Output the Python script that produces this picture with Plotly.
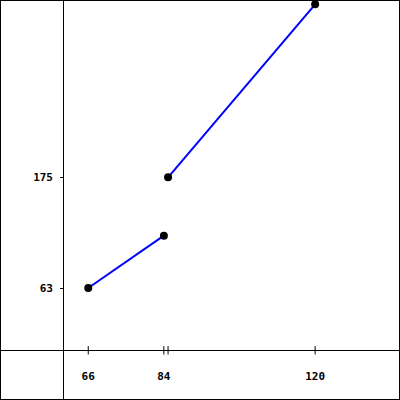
import plotly.graph_objects as go

# two separate runs of points
seg1_x = [66, 84]
seg1_y = [63, 116]
seg2_x = [85, 120]
seg2_y = [175, 350]

x_tickvals = [66, 84, 85, 120]
x_ticktext = ["66", "84", "", "120"]
y_tickvals = [63, 175]
y_ticktext = ["63", "175"]

font = dict(family="DejaVu Sans Mono", size=11, color="black", weight="bold")

fig = go.Figure()

for xs, ys in [(seg1_x, seg1_y), (seg2_x, seg2_y)]:
    fig.add_trace(go.Scatter(
        x=xs, y=ys, mode="lines",
        line=dict(color="#0000ff", width=2),
        showlegend=False, hoverinfo="skip",
    ))
    fig.add_trace(go.Scatter(
        x=xs, y=ys, mode="markers",
        marker=dict(color="black", size=8),
        showlegend=False, hoverinfo="skip",
    ))

# tick marks crossing the x axis line
fig.add_trace(go.Scatter(
    x=x_tickvals, y=[0] * len(x_tickvals), mode="markers",
    marker=dict(symbol="line-ns", size=6, line=dict(color="black", width=1)),
    showlegend=False, hoverinfo="skip",
))

fig.update_layout(
    width=400, height=400,
    margin=dict(l=0, r=0, t=0, b=0),
    paper_bgcolor="white", plot_bgcolor="white",
    font=font,
    xaxis=dict(
        range=[45.0, 140.2], domain=[0, 1],
        anchor="free", position=0.124,
        showgrid=False, zeroline=False,
        showline=True, linecolor="black", linewidth=1,
        tickmode="array", tickvals=x_tickvals, ticktext=x_ticktext,
        ticks="", ticklabelstandoff=15, tickfont=font,
    ),
    yaxis=dict(
        range=[-50.3, 354.4], domain=[0, 1],
        anchor="free", position=0.158,
        showgrid=False, zeroline=False,
        showline=True, linecolor="black", linewidth=1,
        tickmode="array", tickvals=y_tickvals, ticktext=y_ticktext,
        ticks="outside", ticklen=3, tickcolor="black",
        ticklabelstandoff=5, tickfont=font,
    ),
    shapes=[dict(
        type="rect", xref="paper", yref="paper", x0=0, y0=0, x1=1, y1=1,
        line=dict(color="black", width=2), fillcolor="rgba(0,0,0,0)",
    )],
)

# the page's default body margin would push the 400px figure off screen
fig.write_html(
    "out.html",
    config={"displayModeBar": False, "staticPlot": True},
    post_script="document.body.style.margin='0';",
)
